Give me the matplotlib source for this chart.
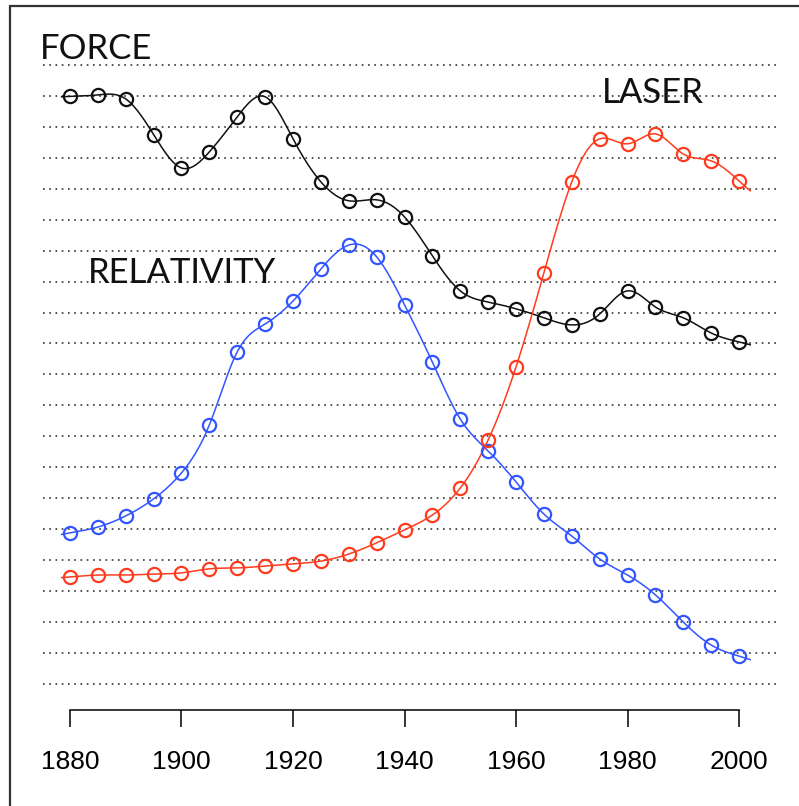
import numpy as np
import matplotlib
matplotlib.use("Agg")
import matplotlib.pyplot as plt
import matplotlib.patches as patches

years = list(range(1880, 2001, 5))

# values in "grid line" units: the 21 dotted lines sit at 0, 1, ..., 20
force = [18.98, 19.03, 18.90, 17.75, 16.67, 17.19, 18.32, 18.97, 17.61, 16.22,
         15.61, 15.64, 15.09, 13.83, 12.70, 12.34, 12.12, 11.83, 11.60, 11.95,
         12.70, 12.18, 11.83, 11.34, 11.05]
relativity = [4.88, 5.07, 5.43, 5.98, 6.82, 8.37, 10.73, 11.63, 12.37, 13.41,
              14.18, 13.80, 12.25, 10.40, 8.56, 7.53, 6.53, 5.49, 4.78, 4.04,
              3.52, 2.88, 2.00, 1.26, 0.90]
laser = [3.46, 3.52, 3.52, 3.55, 3.59, 3.72, 3.75, 3.81, 3.88, 3.97,
         4.20, 4.56, 4.98, 5.46, 6.33, 7.88, 10.24, 13.28, 16.22, 17.61,
         17.45, 17.77, 17.12, 16.90, 16.25]

series = [
    ("FORCE", force, "#111111", (1874.6, 20.2)),
    ("RELATIVITY", relativity, "#3355FF", (1883.2, 12.96)),
    ("LASER", laser, "#FF3B1E", (1975.4, 18.77)),
]
xticks = [1880, 1900, 1920, 1940, 1960, 1980, 2000]


def natural_spline(x, y, xs):
    x = np.asarray(x, float)
    y = np.asarray(y, float)
    n = len(x)
    h = np.diff(x)
    A = np.zeros((n, n))
    b = np.zeros(n)
    A[0, 0] = 1
    A[-1, -1] = 1
    for i in range(1, n - 1):
        A[i, i - 1] = h[i - 1]
        A[i, i] = 2 * (h[i - 1] + h[i])
        A[i, i + 1] = h[i]
        b[i] = 6 * ((y[i + 1] - y[i]) / h[i] - (y[i] - y[i - 1]) / h[i - 1])
    M = np.linalg.solve(A, b)
    idx = np.clip(np.searchsorted(x, xs) - 1, 0, n - 2)
    x0, x1 = x[idx], x[idx + 1]
    hh = x1 - x0
    return (M[idx] * (x1 - xs) ** 3 / (6 * hh) + M[idx + 1] * (xs - x0) ** 3 / (6 * hh)
            + (y[idx] / hh - M[idx] * hh / 6) * (x1 - xs)
            + (y[idx + 1] / hh - M[idx + 1] * hh / 6) * (xs - x0))


fig = plt.figure(figsize=(7.99, 8.06), dpi=100)
ax = fig.add_axes([43 / 799, 1 - 710 / 806, 737 / 799, 690 / 806])
ax.set_xlim(1875.16, 2007.35)
ax.set_ylim(-0.84, 21.45)

for k in range(21):
    ax.axhline(k, color="#333333", lw=1.2, dashes=(1, 2.75), zorder=1)

xs = np.linspace(1878.5, 2002, 600)
for name, vals, col, (tx, ty) in series:
    ax.plot(xs, natural_spline(years, vals, xs), color=col, lw=1.1, zorder=2)
    ax.plot(years, vals, linestyle="none", marker="o", ms=9.5, mfc="none",
            mec=col, mew=1.6, zorder=3)
    ax.text(tx, ty, name, family="Lato", fontsize=25, va="baseline", ha="left",
            color="#111111", zorder=4)

for s in ["top", "right", "left"]:
    ax.spines[s].set_visible(False)
ax.spines["bottom"].set_bounds(1880, 2000)
ax.spines["bottom"].set_linewidth(1.1)
ax.set_yticks([])
ax.set_xticks(xticks)
ax.set_xticklabels([str(t) for t in xticks], family="Liberation Sans", fontsize=19)
ax.tick_params(axis="x", direction="out", length=12, width=1.1, pad=17)

# outer box (cut off at right and bottom like the original)
fig.patches.append(patches.Rectangle((10 / 799, -0.1), 1.2, 1.1 - 6 / 806,
                                     transform=fig.transFigure, fill=False,
                                     edgecolor="#333333", lw=1.6))

fig.savefig("out.png", dpi=100)
